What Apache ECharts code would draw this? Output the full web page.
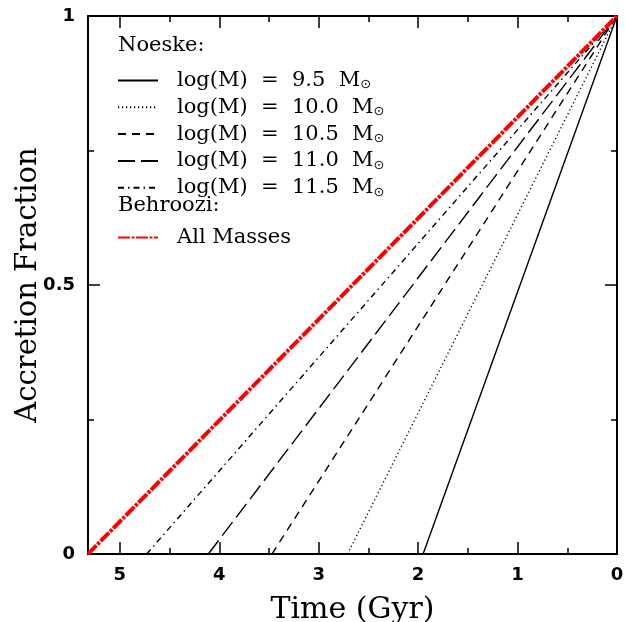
<!DOCTYPE html>
<html><head><meta charset="utf-8">
<script src="https://cdn.jsdelivr.net/npm/echarts@6/dist/echarts.min.js"></script>
<style>html,body{margin:0;padding:0;background:#fff}#c{width:625px;height:622px}</style>
</head><body><div id="c"></div>
<script>
// Data
const noeskeMasses = ['9.5', '10.0', '10.5', '11.0', '11.5'];
const noeskeStartTimes = [1.95, 2.71, 3.47, 4.11, 4.73]; // Gyr where accretion fraction = 0
const behrooziName = 'All Masses';
const behrooziStartTime = 5.32;
const endTime = 0;           // fraction reaches 1 at t = 0
const xTicks = [0, 1, 2, 3, 4, 5];
const yTicks = [0, 0.5, 1];
const xMax = 5.32;

const dashes = ['solid', [1.2, 2.8], [8, 6], [17, 6], [6, 4, 1.5, 4]];

const chart = echarts.init(document.getElementById('c'), null, {renderer: 'canvas'});
const series = noeskeMasses.map((m, i) => ({
  name: m,
  type: 'line',
  xAxisIndex: 0, yAxisIndex: 0,
  symbol: 'none',
  data: [[noeskeStartTimes[i], 0], [endTime, 1]],
  lineStyle: {color: '#000', width: 1.4, type: dashes[i]},
  itemStyle: {color: '#000'},
  animation: false
}));
series.push({
  name: behrooziName,
  type: 'line',
  xAxisIndex: 0, yAxisIndex: 0,
  symbol: 'none',
  data: [[behrooziStartTime, 0], [endTime, 1]],
  lineStyle: {color: '#ff0000', width: 4, type: [12, 1.5, 3, 1.5]},
  itemStyle: {color: '#ff0000'},
  animation: false,
  z: 5
});

const tickFont = {fontFamily: 'DejaVu Sans', fontWeight: 'bold', fontSize: 18, color: '#000'};
function xAxisDef(pos, showLabel) {
  return {
    type: 'value', position: pos, inverse: true, min: 0, max: xMax, interval: 1,
    axisLine: {show: true, onZero: false, lineStyle: {color: '#000', width: 2}},
    axisTick: {show: true, inside: true, length: 12, lineStyle: {color: '#000', width: 1.5}},
    minorTick: {show: true, splitNumber: 2, length: 6, lineStyle: {color: '#000', width: 1.5}},
    splitLine: {show: false},
    axisLabel: {show: showLabel, margin: 12, showMaxLabel: false, ...tickFont,
      formatter: v => xTicks.includes(v) ? String(v) : ''},
    name: showLabel ? 'Time (Gyr)' : '', nameLocation: 'middle', nameGap: 41,
    nameMoveOverlap: false,
    nameTextStyle: {fontFamily: 'DejaVu Serif', fontSize: 30, color: '#000'}
  };
}
function yAxisDef(pos, showLabel) {
  return {
    type: 'value', position: pos, min: 0, max: 1, interval: 0.5,
    axisLine: {show: true, onZero: false, lineStyle: {color: '#000', width: 2}},
    axisTick: {show: true, inside: true, length: 12, lineStyle: {color: '#000', width: 1.5}},
    minorTick: {show: true, splitNumber: 2, length: 6, lineStyle: {color: '#000', width: 1.5}},
    splitLine: {show: false},
    axisLabel: {show: showLabel, margin: 13, ...tickFont,
      formatter: v => yTicks.includes(v) ? String(v) : ''},
    name: showLabel ? 'Accretion Fraction' : '', nameLocation: 'middle', nameGap: 45,
    nameMoveOverlap: false,
    nameTextStyle: {fontFamily: 'DejaVu Serif', fontSize: 29, color: '#000'}
  };
}

const legendText = {
  fontFamily: 'DejaVu Serif', fontSize: 21, color: '#000', padding: [0, 0, 0, 14],
  rich: {
    t: {fontFamily: 'DejaVu Serif', fontSize: 21, color: '#000'},
    s: {fontFamily: 'DejaVu Sans', fontSize: 13, color: '#000', padding: [9, 0, 0, 0]}
  }
};

chart.setOption({
  backgroundColor: '#fff',
  animation: false,
  grid: {left: 88, right: 8, top: 16, bottom: 68, containLabel: false, outerBoundsMode: 'none'},
  xAxis: [xAxisDef('bottom', true), xAxisDef('top', false)],
  yAxis: [yAxisDef('left', true), yAxisDef('right', false)],
  legend: [
    {
      data: noeskeMasses, orient: 'vertical', left: 117, top: 70, padding: 0,
      itemWidth: 40, itemHeight: 14, itemGap: 5.3, selectedMode: false,
      itemStyle: {opacity: 0},
      textStyle: legendText,
      formatter: n => '{t|log(M)  =  ' + n + '  M}{s|⊙}'
    },
    {
      data: [behrooziName], orient: 'vertical', left: 117, top: 227, padding: 0,
      itemWidth: 40, itemHeight: 14, selectedMode: false,
      itemStyle: {opacity: 0},
      textStyle: {fontFamily: 'DejaVu Serif', fontSize: 21, color: '#000', padding: [0, 0, 0, 14]}
    }
  ],
  graphic: [
    {type: 'text', left: 118, top: 35, style: {text: 'Noeske:', font: '21px "DejaVu Serif"', fill: '#000'}},
    {type: 'text', left: 118, top: 195, style: {text: 'Behroozi:', font: '21px "DejaVu Serif"', fill: '#000'}}
  ],
  series: series
});
</script></body></html>
